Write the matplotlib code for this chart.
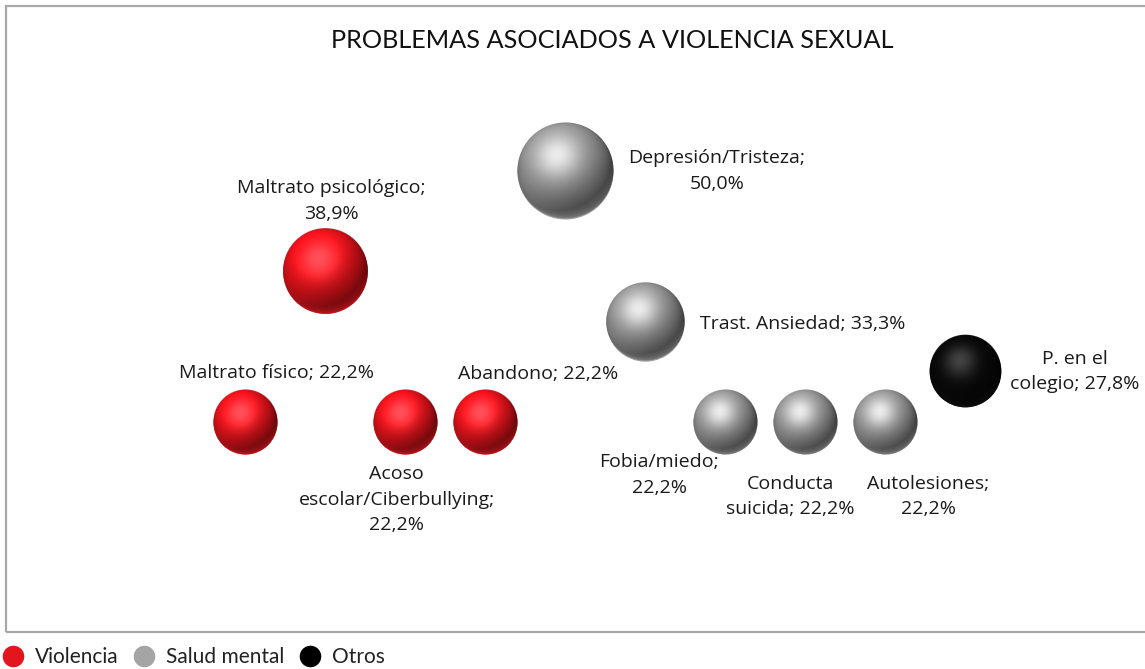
import numpy as np
import matplotlib
matplotlib.use("Agg")
import matplotlib.pyplot as plt
from matplotlib.colors import to_rgb
from matplotlib.patches import Rectangle
from matplotlib.lines import Line2D

# ---------------- data ----------------
categories = ["Maltrato físico", "Maltrato psicológico", "Acoso escolar/Ciberbullying",
              "Abandono", "Depresión/Tristeza", "Trast. Ansiedad", "Fobia/miedo",
              "Conducta suicida", "Autolesiones", "P. en el colegio"]
values = [22.2, 38.9, 22.2, 22.2, 50.0, 33.3, 22.2, 22.2, 22.2, 27.8]
groups = ["Violencia", "Violencia", "Violencia", "Violencia", "Salud mental",
          "Salud mental", "Salud mental", "Salud mental", "Salud mental", "Otros"]
x_pos = [1, 2, 3, 4, 5, 6, 7, 8, 9, 10]
label_texts = ["Maltrato físico; 22,2%", "Maltrato psicológico;\n38,9%",
               "Acoso\nescolar/Ciberbullying;\n22,2%", "Abandono; 22,2%",
               "Depresión/Tristeza;\n50,0%", "Trast. Ansiedad; 33,3%",
               "Fobia/miedo;\n22,2%", "Conducta\nsuicida; 22,2%",
               "Autolesiones;\n22,2%", "P. en el\ncolegio; 27,8%"]
legend_groups = ["Violencia", "Salud mental", "Otros"]
title = "PROBLEMAS ASOCIADOS A VIOLENCIA SEXUAL"

# ---------------- styles ----------------
label_offsets = [(23, 35.3), (4.3, 50.4), (-6.1, -55.8), (38, 34.6), (109.4, 0),
                 (113.8, -1.4), (-47.5, -38), (-10.8, -53.6), (31, -53.6), (79.2, 0)]
base_colors = {"Violencia": "#e8121b", "Salud mental": "#a2a2a2", "Otros": "#0a0a0a"}
legend_colors = {"Violencia": "#e3161e", "Salud mental": "#a5a5a5", "Otros": "#000000"}
spec_strength = {"Violencia": 0.24, "Salud mental": 0.26, "Otros": 0.22}
ambient = {"Violencia": 0.46, "Salud mental": 0.40, "Otros": 0.40}
size_scale = 95.6  # points^2 per percent
LABEL_FONT = ["Open Sans", "DejaVu Sans"]
TITLE_FONT = ["Lato", "DejaVu Sans"]

W, H, DPI = 1145, 669, 100
fig = plt.figure(figsize=(W / DPI, H / DPI), dpi=DPI)
fig.patch.set_facecolor("white")
ax = fig.add_axes([0, 0, 1, 1])
ax.set_xlim(-2.0625, 12.25)
ax.set_ylim(-5.15, 68.93)
ax.axis("off")

# frame
fig.patches.append(Rectangle((6 / W, 1 - 632 / H), 1.2, (632 - 6) / H,
                             transform=fig.transFigure, fill=False,
                             edgecolor="#a8a8a8", linewidth=1.6))


def sphere_image(R, color, ks, amb):
    n = int(np.ceil(R)) * 2 + 3
    c = (n - 1) / 2.0
    yy, xx = np.mgrid[0:n, 0:n]
    u = (xx - c) / R
    w = (c - yy) / R  # up positive (image drawn with origin='upper')
    d2 = u ** 2 + w ** 2
    z = np.sqrt(np.clip(1 - d2, 0, 1))
    L = np.array([-0.30, 0.55, 0.78]); L /= np.linalg.norm(L)
    diff = np.clip(u * L[0] + w * L[1] + z * L[2], 0, 1)
    Hv = L + np.array([0, 0, 1.0]); Hv /= np.linalg.norm(Hv)
    spec = np.clip(u * Hv[0] + w * Hv[1] + z * Hv[2], 0, 1) ** 10
    rim = np.clip(-w, 0, 1) * (1 - z) ** 1.5
    base = np.array(to_rgb(color))
    rgb = base[None, None, :] * (amb + 0.68 * diff)[..., None]
    rgb += (ks * spec)[..., None]
    rgb += (0.45 * rim)[..., None] * (base * 0.9 + 0.1)[None, None, :]
    rgb = np.clip(rgb, 0, 1)
    dist = np.sqrt((xx - c) ** 2 + (yy - c) ** 2)
    alpha = np.clip(R - dist + 0.5, 0, 1)
    img = np.dstack([rgb, alpha])
    return img, n


# bubbles (scatter) + shading images on top
sizes = [v * size_scale for v in values]
for xi, v, g, s in zip(x_pos, values, groups, sizes):
    ax.scatter([xi], [v], s=s, color=base_colors[g], linewidths=0, zorder=2)

fig.canvas.draw()
px_per_x = ax.transData.transform((1, 0))[0] - ax.transData.transform((0, 0))[0]
px_per_y = ax.transData.transform((0, 1))[1] - ax.transData.transform((0, 0))[1]
for xi, v, g, s in zip(x_pos, values, groups, sizes):
    R = np.sqrt(s) / 2.0 * DPI / 72.0
    img, n = sphere_image(R, base_colors[g], spec_strength[g], ambient[g])
    hx = n / 2.0 / px_per_x
    hy = n / 2.0 / px_per_y
    ax.imshow(img, extent=(xi - hx, xi + hx, v - hy, v + hy), origin="upper",
              interpolation="bilinear", zorder=3, aspect="auto")
ax.set_xlim(-2.0625, 12.25)
ax.set_ylim(-5.15, 68.93)

for xi, v, txt, off in zip(x_pos, values, label_texts, label_offsets):
    ax.annotate(txt, (xi, v), xytext=off, textcoords="offset points",
                ha="center", va="center", fontsize=14, family=LABEL_FONT,
                color="#1a1a1a", linespacing=1.55, zorder=5)

fig.text(612.5 / W, 1 - 41 / H, title, ha="center", va="center",
         fontsize=18.2, family=TITLE_FONT, color="#111111")

handles = [Line2D([], [], marker="o", linestyle="", markersize=14.5,
                  markerfacecolor=legend_colors[g], markeredgecolor=legend_colors[g])
           for g in legend_groups]
leg = fig.legend(handles, legend_groups, loc="center left",
                 bbox_to_anchor=(2.6 / W, 1 - 657 / H), borderpad=0, borderaxespad=0,
                 ncol=3, frameon=False, handletextpad=0.56,
                 columnspacing=0.72, handlelength=1.0,
                 prop={"family": TITLE_FONT, "size": 15})
for t in leg.get_texts():
    t.set_color("#222222")

fig.savefig("out.png", dpi=DPI)
